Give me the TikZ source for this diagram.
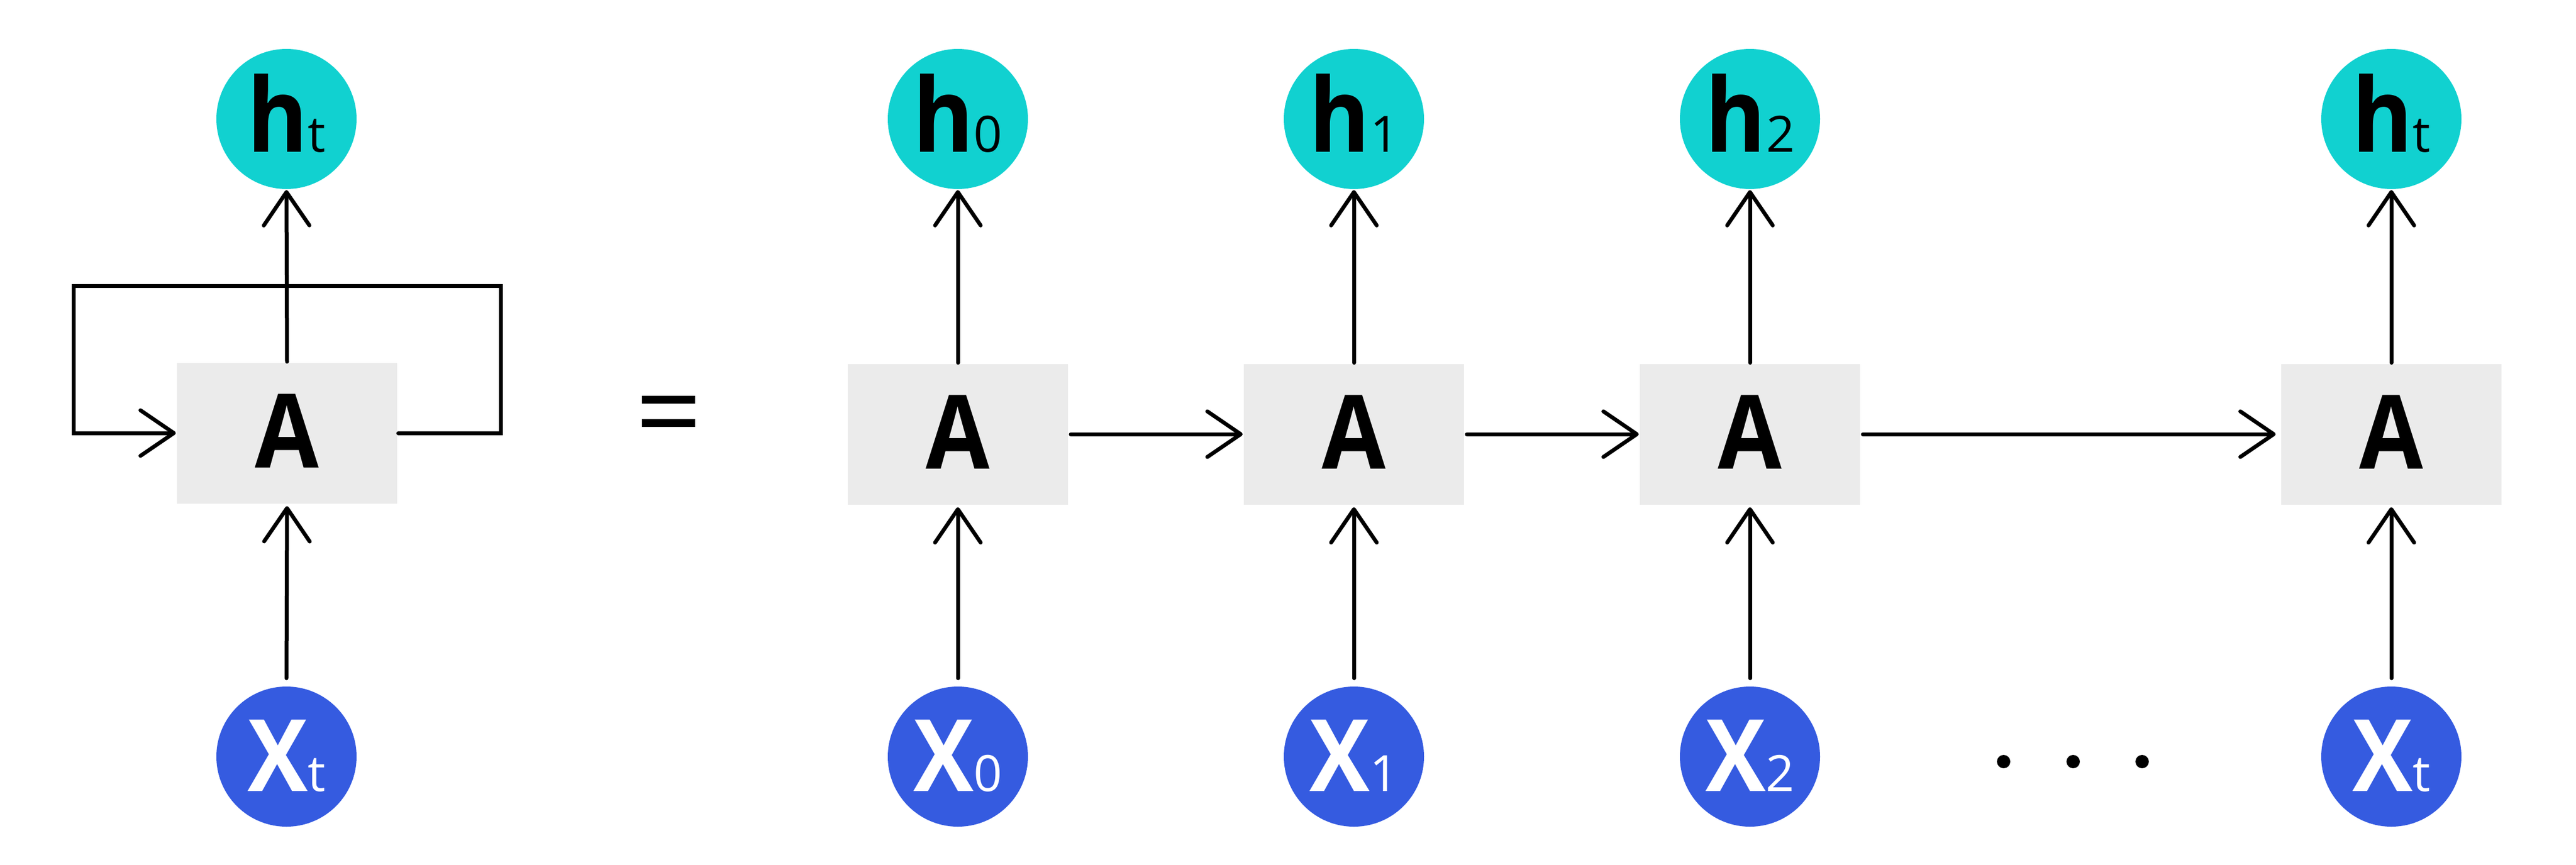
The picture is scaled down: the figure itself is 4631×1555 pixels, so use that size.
\documentclass[tikz,border=0pt]{standalone}
\usepackage{fontspec}
\setmainfont{Open Sans}[BoldFeatures={FakeStretch=0.9}]
\usetikzlibrary{arrows.meta,calc}
\definecolor{hcol}{RGB}{17,209,208}
\definecolor{xcol}{RGB}{53,91,224}
\definecolor{boxcol}{RGB}{235,235,235}
\newcommand\mysub[1]{{\fontsize{9}{9}\mdseries\selectfont #1}}
\begin{document}
\begin{tikzpicture}[x=0.1pt,y=-0.1pt,
  hnode/.style={circle,fill=hcol,minimum size=25.2pt,inner sep=0pt,text height=11.8pt,text depth=0pt,font=\fontsize{18.5}{18.5}\selectfont\bfseries,text=black},
  xnode/.style={circle,fill=xcol,minimum size=25.2pt,inner sep=0pt,text height=12.4pt,text depth=0pt,font=\fontsize{18}{18}\selectfont\bfseries,text=white},
  cell/.style={rectangle,fill=boxcol,minimum width=39.6pt,minimum height=25.3pt,inner sep=0pt,text height=12.4pt,text depth=0pt,font=\fontsize{18.5}{18.5}\selectfont\bfseries},
  conn/.style={line width=0.7pt,line cap=round,-{Straight Barb[length=6pt,width=8.2pt,line cap=round,line join=round]}},
  dot/.style={circle,fill=black,minimum size=2.4pt,inner sep=0pt}
]
\useasboundingbox (0,0) rectangle (4631,1555);
% folded form
\node[hnode] (hL) at (515,214) {h\mysub{t}};
\node[cell] (AL) at (516,779) {A};
\node[xnode] (xL) at (515,1361) {X\mysub{t}};
\coordinate (lr) at (900,514);
\coordinate (ll) at (132,514);
\draw[conn] (AL.east) -| (lr) -- (ll) |- (AL.west);
\draw[conn] (AL.north) -- (hL.south);
\draw[conn,shorten <=1.3pt,shorten >=0.3pt] (xL.north) -- (AL.south);
% equals
\node[font=\fontsize{21}{21}\selectfont] (eq) at (1203,763) {=};
% unrolled form
\foreach \i/\xx/\s in {0/1722/0,1/2434/1,2/3146/2,3/4299/t}{
  \node[hnode] (h\i) at (\xx,214) {h\mysub{\s}};
  \node[cell] (A\i) at (\xx,781) {A};
  \node[xnode] (x\i) at (\xx,1361) {X\mysub{\s}};
  \draw[conn] (A\i.north) -- (h\i.south);
  \draw[conn,shorten <=1.3pt,shorten >=0.3pt] (x\i.north) -- (A\i.south);
}
\draw[conn,shorten <=0.3pt] (A0.east) -- (A1.west);
\draw[conn,shorten <=0.3pt] (A1.east) -- (A2.west);
\draw[conn,shorten <=0.3pt,shorten >=0.8pt] (A2.east) -- (A3.west);
\node[dot] (d1) at (3602,1370) {};
\node[dot] (d2) at (3727,1370) {};
\node[dot] (d3) at (3851,1370) {};
\end{tikzpicture}
\end{document}
